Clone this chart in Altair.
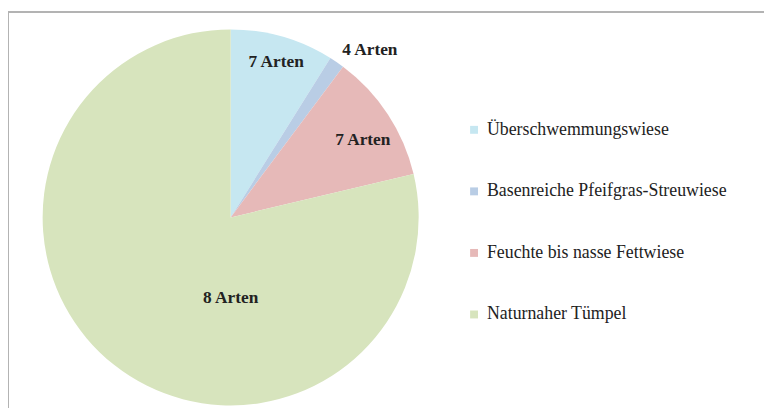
import altair as alt
import pandas as pd

categories = ["Überschwemmungswiese", "Basenreiche Pfeifgras-Streuwiese",
              "Feuchte bis nasse Fettwiese", "Naturnaher Tümpel"]
shares = [8.9, 1.3, 11.1, 78.7]
labels = ["7 Arten", "4 Arten", "7 Arten", "8 Arten"]
colors = ["#C6E7F1", "#B9CDE5", "#E6B9B8", "#D7E4BD"]

# label placement (radius, dx, dy) -- styling only
label_place = [(163, 1, 0), (219, 17, 12), (155, 4, 7), (0, 0, 81)]

df = pd.DataFrame({"category": categories, "value": shares,
                   "label": labels, "order": list(range(len(categories)))})

W, H = 764, 398
CX, CY, R = 225, 207.5, 190

base = alt.Chart(df)

theta = alt.Theta("value:Q", stack=True)
order = alt.Order("order:Q", sort="ascending")

pie = base.mark_arc(outerRadius=R, stroke=None).encode(
    theta=theta,
    order=order,
    x=alt.value(CX),
    y=alt.value(CY),
    color=alt.Color("category:N",
                    scale=alt.Scale(domain=categories, range=colors),
                    sort=categories,
                    legend=alt.Legend(
                        title=None, orient="none", legendX=462, legendY=110,
                        symbolType="square", symbolSize=64, symbolStrokeWidth=0,
                        labelFont="Liberation Serif", labelFontSize=18,
                        labelColor="#222222", labelOffset=4, rowPadding=44.2,
                        padding=0, labelLimit=400)),
)

layers = [pie]
for cat, (r, dx, dy) in zip(categories, label_place):
    t = base.transform_calculate(
        t=f"datum.category == '{cat}' ? datum.label : ''"
    ).mark_text(radius=r, dx=dx, dy=dy, font="Liberation Serif", fontSize=17.5,
                fontWeight="bold", color="#222222", align="center",
                baseline="middle").encode(
        theta=theta, order=order, x=alt.value(CX), y=alt.value(CY),
        text="t:N")
    layers.append(t)

frame_data = alt.Data(values=[{"a": 1}])
top_line = alt.Chart(frame_data).mark_rule(color="#B3B3B3", strokeWidth=2).encode(
    x=alt.value(0), x2=alt.value(W), y=alt.value(0))
left_line = alt.Chart(frame_data).mark_rule(color="#B3B3B3", strokeWidth=2).encode(
    x=alt.value(0), y=alt.value(0), y2=alt.value(H + 10))

chart = alt.layer(top_line, left_line, *layers).properties(
    width=W, height=H,
    padding={"left": 0, "top": 2, "right": 0, "bottom": 0},
    autosize=alt.AutoSizeParams(type="none"),
).configure_view(stroke=None)

chart.save("out.html", embed_options={"renderer": "svg", "actions": False})
